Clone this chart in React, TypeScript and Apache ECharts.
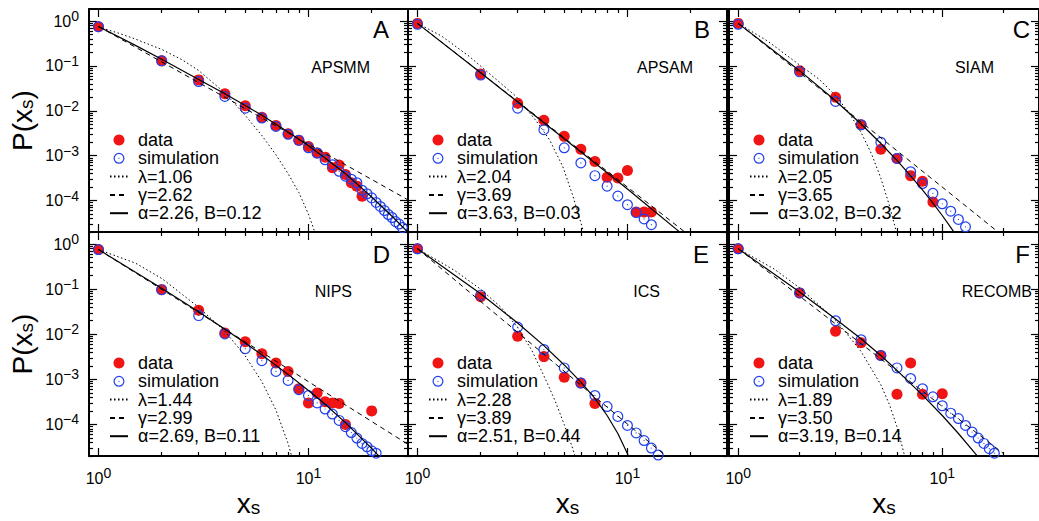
import React, { useEffect, useRef } from "react";
import * as echarts from "echarts";

const FONT = "'Liberation Sans', Arial, Helvetica, sans-serif";

const panelLetters = ["A", "B", "C", "D", "E", "F"];
const panelNames = ["APSMM", "APSAM", "SIAM", "NIPS", "ICS", "RECOMB"];
const lambdaLabels = ["λ=1.06", "λ=2.04", "λ=2.05", "λ=1.44", "λ=2.28", "λ=1.89"];
const gammaLabels = ["γ=2.62", "γ=3.69", "γ=3.65", "γ=2.99", "γ=3.89", "γ=3.50"];
const alphaLabels = ["α=2.26, B=0.12", "α=3.63, B=0.03", "α=3.02, B=0.32", "α=2.69, B=0.11", "α=2.51, B=0.44", "α=3.19, B=0.14"];

// tick values
const xTickValues = [1, 10];
const yTickValues = [1, 0.1, 0.01, 0.001, 0.0001];
const xMinorValues = [2, 3, 4, 5, 6, 7, 8, 9, 20, 30];
const yMinorMultipliers = [2, 3, 4, 5, 6, 7, 8, 9];
const yMinorDecades = [0.1, 0.01, 0.001, 0.0001, 0.00001];

// Panel A (APSMM)
const dataA = [[1,0.75],[2,0.13],[3,0.049],[4,0.024],[5,0.013],[6,0.0072],[7,0.0047],[8,0.0031],[9,0.0022],[10,0.0016],[11,0.00115],[12,0.00093],[13,0.00054],[14,0.00062],[15,0.00038],[16,0.00025],[17,0.00021],[18,0.000125]];
const simA = [[1,0.75],[2,0.13],[3,0.045],[4,0.021],[5,0.0115],[6,0.0069],[7,0.0045],[8,0.003],[9,0.0022],[10,0.0015],[11,0.00115],[12,0.00081],[13,0.00063],[14,0.00045],[15,0.00035],[16,0.0003],[17,0.00025],[18,0.00017],[19,0.000142],[20,0.000115],[21,0.000091],[22,0.000074],[23,0.00006],[24,0.000049],[25,0.000042],[26,0.000034],[27,0.00003],[28,0.000025]];
const lamA = [[1,0.741],[1.25,0.537],[1.5,0.398],[2,0.234],[2.5,0.138],[3,0.0794],[4,0.0251],[5,0.00794],[6,0.00282],[7,0.00105],[8,0.000398],[9,0.000151],[10,0.0000501],[11,0.0000141]];
const gamA = [[1,0.759],[10,0.00182],[30,0.000102]];
const alpA = [[1,0.759],[1.5,0.288],[2,0.141],[3,0.0501],[4,0.024],[5,0.0132],[6,0.00794],[8,0.00339],[10,0.00166],[12,0.00089],[15,0.000398],[20,0.00012],[25,0.0000447],[30,0.0000191]];

// Panel B (APSAM)
const dataB = [[1,0.89],[2,0.066],[3,0.0148],[4,0.0062],[5,0.0027],[6,0.0014],[7,0.00074],[8,0.00033],[9,0.00032],[10,0.00047],[11,0.000056],[12,0.000056],[13,0.000056]];
const simB = [[1,0.85],[2,0.063],[3,0.0115],[4,0.0038],[5,0.0015],[6,0.00069],[7,0.00036],[8,0.00021],[9,0.000126],[10,0.000081],[11,0.000054],[12,0.000039],[13,0.000029]];
const lamB = [[1,0.891],[1.3,0.468],[1.77,0.162],[2.95,0.0209],[3.67,0.00603],[4.25,0.00229],[4.92,0.000575],[5.5,0.000126],[6.13,0.0000229],[6.4,0.00001]];
const gamB = [[1,0.891],[10,0.0002],[20,0.0000158]];
const alpB = [[1,0.891],[2,0.0708],[3,0.0158],[5,0.0024],[8,0.000417],[10,0.000182],[13,0.000066],[17,0.0000234],[20,0.0000126]];

// Panel C (SIAM)
const dataC = [[1,0.89],[2,0.078],[3,0.02],[4,0.0049],[5,0.0014],[6,0.00087],[7,0.00036],[8,0.00027],[9,0.000093]];
const simC = [[1,0.85],[2,0.074],[3,0.0162],[4,0.0049],[5,0.002],[6,0.00087],[7,0.00044],[8,0.00024],[9,0.000145],[10,0.000085],[11,0.000058],[12,0.000038],[13,0.000026]];
const lamC = [[1,0.891],[1.4,0.355],[2,0.105],[2.5,0.0501],[3,0.0219],[3.5,0.00891],[4,0.00331],[4.5,0.0011],[5,0.000316],[5.5,0.0000794],[6,0.0000178]];
const gamC = [[1,0.891],[10,0.0002],[20,0.0000158]];
const alpC = [[1,0.891],[2,0.0787],[3,0.01675],[4,0.00508],[5,0.001875],[6,0.000785],[7,0.000357],[8,0.000173],[9,0.0000883],[10,0.0000465],[11,0.0000254],[12,0.0000141]];

// Panel D (NIPS)
const dataD = [[1,0.76],[2,0.098],[3,0.034],[4,0.0107],[5,0.0068],[6,0.0037],[7,0.0023],[8,0.0015],[9,0.00062],[10,0.0003],[11,0.0005],[12,0.00032],[13,0.0003],[14,0.00029],[15,0.0001],[20,0.0002]];
const simD = [[1,0.76],[2,0.098],[3,0.026],[4,0.0102],[5,0.0048],[6,0.0026],[7,0.0015],[8,0.00095],[9,0.00059],[10,0.00044],[11,0.0003],[12,0.00022],[13,0.00017],[14,0.000123],[15,0.000089],[16,0.000066],[17,0.00005],[18,0.000038],[19,0.000032],[20,0.000026],[21,0.000023]];
const lamD = [[1,0.759],[1.5,0.38],[2,0.174],[3,0.0398],[4,0.0117],[5,0.00331],[6,0.00089],[7,0.000209],[8,0.000038],[8.6,0.0000112]];
const gamD = [[1,0.759],[10,0.00089],[30,0.0000355]];
const alpD = [[1,0.759],[2,0.105],[3,0.0316],[4,0.013],[5,0.0064],[6,0.0035],[8,0.00129],[10,0.000569],[12,0.00028],[15,0.00011],[20,0.0000294],[22,0.0000184]];

// Panel E (ICS)
const dataE = [[1,0.79],[2,0.068],[3,0.0091],[4,0.0032],[5,0.00112],[6,0.00083],[7,0.00029]];
const simE = [[1,0.79],[2,0.074],[3,0.0145],[4,0.0046],[5,0.0018],[6,0.00083],[7,0.00044],[8,0.00025],[9,0.000151],[10,0.000095],[11,0.000065],[12,0.000044],[13,0.00003],[14,0.000021]];
const lamE = [[1,0.794],[1.5,0.263],[2,0.1],[2.5,0.0398],[3,0.0141],[3.5,0.00447],[4,0.0012],[4.5,0.000355],[5,0.0001],[5.5,0.0000282],[5.8,0.0000126]];
const gamE = [[1,0.794],[10,0.000102],[16,0.0000166]];
const alpE = [[1,0.794],[2,0.0794],[3,0.0178],[4,0.00562],[5,0.00209],[6,0.00087],[7,0.00038],[8,0.000158],[9,0.000063],[10,0.0000224],[10.5,0.0000126]];

// Panel F (RECOMB)
const dataF = [[1,0.79],[2,0.083],[3,0.0117],[4,0.0065],[5,0.0034],[6,0.00047],[7,0.0023],[8,0.00047],[10,0.00048]];
const simF = [[1,0.79],[2,0.083],[3,0.02],[4,0.0076],[5,0.0034],[6,0.0018],[7,0.00105],[8,0.00062],[9,0.00041],[10,0.00026],[11,0.000178],[12,0.000135],[13,0.000095],[14,0.000068],[15,0.00005],[16,0.000038],[17,0.000029],[18,0.000023]];
const lamF = [[1,0.794],[1.5,0.282],[2,0.107],[3,0.0209],[4,0.00417],[5,0.000759],[5.5,0.000282],[6,0.0000891],[6.5,0.0000224],[6.8,0.00001]];
const gamF = [[1,0.794],[10,0.000251],[20,0.0000224]];
const alpF = [[1,0.794],[2,0.0871],[3,0.0219],[4,0.00794],[5,0.00339],[6,0.00158],[8,0.000447],[10,0.000158],[12,0.000063],[14.8,0.0000204],[16,0.0000126]];

const panelData = [dataA, dataB, dataC, dataD, dataE, dataF];
const panelSim = [simA, simB, simC, simD, simE, simF];
const panelLam = [lamA, lamB, lamC, lamD, lamE, lamF];
const panelGam = [gamA, gamB, gamC, gamD, gamE, gamF];
const panelAlp = [alpA, alpB, alpC, alpD, alpE, alpF];

// layout
const COL_LEFT = [89, 408, 729];
const ROW_TOP = [9, 232];
const GRID_W = 319;
const GRID_H = [223, 224];
const X_MIN = -0.045, X_MAX = 1.474;
const Y_MIN = -4.7, Y_MAX = 0.27;
const LETTER_POS = [[389, 29], [710, 29], [1030, 29], [390, 254], [709, 254], [1030, 254]];
const NAME_POS = [[370, 67], [693, 67], [994, 67], [352, 291], [660, 291], [1032, 291]];

const RED = "#f01414";
const BLUE = "#1f3fee";
// open circle with a small centre dot (ring drawn as outer + reversed inner circle)
const RING_DOT =
  "path://M0 10A10 10 0 1 1 20 10A10 10 0 1 1 0 10Z" +
  "M2.2 10A7.8 7.8 0 1 0 17.8 10A7.8 7.8 0 1 0 2.2 10Z" +
  "M8.9 10A1.1 1.1 0 1 1 11.1 10A1.1 1.1 0 1 1 8.9 10Z";

const L = Math.log10;
const toLog = (arr: number[][]) => arr.map(([x, p]) => [L(x), L(p)]);

const tickRich = {
  b: { fontSize: 16, lineHeight: 24, fontFamily: FONT, color: "#000" },
  s: { fontSize: 14, lineHeight: 10, verticalAlign: "top", fontFamily: FONT, color: "#000" },
};
const powLabel = (v: number) => {
  const e = Math.round(v);
  return `{b|10}{s|${e < 0 ? "\u2212" + -e : e}}`;
};

function buildOption() {
  const xMajor = xTickValues.map(L);
  const xMinor = xMinorValues.map(L);
  const yMajor = yTickValues.map(L);
  const yMinor: number[] = [];
  yMinorDecades.forEach((d) => yMinorMultipliers.forEach((k) => yMinor.push(L(k * d))));

  const grids: any[] = [];
  const xAxes: any[] = [];
  const yAxes: any[] = [];
  const series: any[] = [];
  const legends: any[] = [];
  const graphics: any[] = [];

  for (let gi = 0; gi < 6; gi++) {
    const r = Math.floor(gi / 3);
    const c = gi % 3;
    grids.push({ left: COL_LEFT[c], top: ROW_TOP[r], width: GRID_W, height: GRID_H[r], containLabel: false });

    const base = (major: boolean, vals: number[]) => ({
      type: "value",
      gridIndex: gi,
      splitLine: { show: false },
      axisLine: { show: major, onZero: false, lineStyle: { color: "#000", width: 2 } },
      axisTick: { show: true, inside: true, length: major ? 8 : 4, customValues: vals, lineStyle: { color: "#000", width: 1.2 } },
      axisLabel: { show: false },
      silent: true,
    });

    const xBottomMajor: any = { ...base(true, xMajor), position: "bottom", min: X_MIN, max: X_MAX };
    if (r === 1) {
      xBottomMajor.axisLabel = {
        show: true, customValues: xMajor, formatter: powLabel, margin: 10, rich: tickRich,
        color: "#000", fontSize: 16, fontFamily: FONT,
      };
      xBottomMajor.name = "{i|x}{sub|s}";
      xBottomMajor.nameLocation = "middle";
      xBottomMajor.nameGap = 33;
      xBottomMajor.nameTextStyle = {
        color: "#000", fontFamily: FONT, fontSize: 28,
        rich: {
          i: { fontSize: 28, lineHeight: 28, fontFamily: FONT, color: "#000" },
          sub: { fontSize: 19, lineHeight: 10, verticalAlign: "bottom", fontFamily: FONT, color: "#000" },
        },
      };
    }
    xAxes.push(xBottomMajor);
    xAxes.push({ ...base(false, xMinor), position: "bottom", min: X_MIN, max: X_MAX });
    xAxes.push({ ...base(true, xMajor), position: "top", min: X_MIN, max: X_MAX });
    xAxes.push({ ...base(false, xMinor), position: "top", min: X_MIN, max: X_MAX });

    const yLeftMajor: any = { ...base(true, yMajor), position: "left", min: Y_MIN, max: Y_MAX };
    if (c === 0) {
      yLeftMajor.axisLabel = {
        show: true, customValues: yMajor, formatter: powLabel, margin: 10, rich: tickRich,
        color: "#000", fontSize: 16, fontFamily: FONT,
      };
      yLeftMajor.name = "P(x{sub|s})";
      yLeftMajor.nameLocation = "middle";
      yLeftMajor.nameGap = 53;
      yLeftMajor.nameTextStyle = {
        color: "#000", fontFamily: FONT, fontSize: 28, lineHeight: 28,
        rich: {
          sub: { fontSize: 19, lineHeight: 10, verticalAlign: "bottom", fontFamily: FONT, color: "#000" },
        },
      };
    }
    yAxes.push(yLeftMajor);
    yAxes.push({ ...base(false, yMinor), position: "left", min: Y_MIN, max: Y_MAX });
    yAxes.push({ ...base(true, yMajor), position: "right", min: Y_MIN, max: Y_MAX });
    yAxes.push({ ...base(false, yMinor), position: "right", min: Y_MIN, max: Y_MAX });

    const xi = gi * 4;
    const yi = gi * 4;
    series.push({
      type: "scatter", name: "data", xAxisIndex: xi, yAxisIndex: yi,
      data: toLog(panelData[gi]), symbol: "circle", symbolSize: 11,
      itemStyle: { color: RED, opacity: 1 }, z: 2,
    });
    series.push({
      type: "scatter", name: "simulation", xAxisIndex: xi, yAxisIndex: yi,
      data: toLog(panelSim[gi]), symbol: RING_DOT, symbolSize: 11, symbolKeepAspect: true,
      itemStyle: { color: BLUE, opacity: 1 }, z: 3,
    });
    const lineS = (name: string, arr: number[][], type: any, width: number) => ({
      type: "line", name, xAxisIndex: xi, yAxisIndex: yi, data: toLog(arr),
      symbol: "none", showSymbol: false, smooth: false, clip: true,
      lineStyle: { color: "#000", width, type }, itemStyle: { color: "#000" }, z: 4,
    });
    series.push(lineS(lambdaLabels[gi], panelLam[gi], [1.5, 2.5], 1));
    series.push(lineS(gammaLabels[gi], panelGam[gi], [5, 4], 1));
    series.push(lineS(alphaLabels[gi], panelAlp[gi], "solid", 1.2));

    const hideSym = { itemStyle: { opacity: 0 } };
    legends.push({
      orient: "vertical", left: COL_LEFT[c] + 20, top: ROW_TOP[r] + 122,
      itemWidth: 18, itemHeight: 11, itemGap: 0.3, padding: 0, selectedMode: false,
      data: [
        "data",
        "simulation",
        { name: lambdaLabels[gi], ...hideSym },
        { name: gammaLabels[gi], ...hideSym },
        { name: alphaLabels[gi], ...hideSym },
      ],
      textStyle: { fontSize: 18, lineHeight: 18, color: "#000", fontFamily: FONT, padding: [0, 0, 0, 5] },
    });

    graphics.push({
      type: "text", x: LETTER_POS[gi][0], y: LETTER_POS[gi][1], silent: true,
      style: { text: panelLetters[gi], fill: "#000", fontSize: 24, fontFamily: FONT, align: "right", verticalAlign: "middle" },
    });
    graphics.push({
      type: "text", x: NAME_POS[gi][0], y: NAME_POS[gi][1], silent: true,
      style: { text: panelNames[gi], fill: "#000", fontSize: 16, fontFamily: FONT, align: "right", verticalAlign: "middle" },
    });
  }

  return {
    animation: false,
    backgroundColor: "#fff",
    textStyle: { fontFamily: FONT },
    grid: grids,
    xAxis: xAxes,
    yAxis: yAxes,
    series,
    legend: legends,
    graphic: { elements: graphics },
  };
}

export default function App() {
  const ref = useRef<HTMLDivElement>(null);
  useEffect(() => {
    document.body.style.margin = "0";
    const chart = echarts.init(ref.current as HTMLDivElement, null, { renderer: "svg" });
    chart.setOption(buildOption() as any);
    return () => chart.dispose();
  }, []);
  return <div ref={ref} style={{ width: 1039, height: 521, background: "#fff" }} />;
}
